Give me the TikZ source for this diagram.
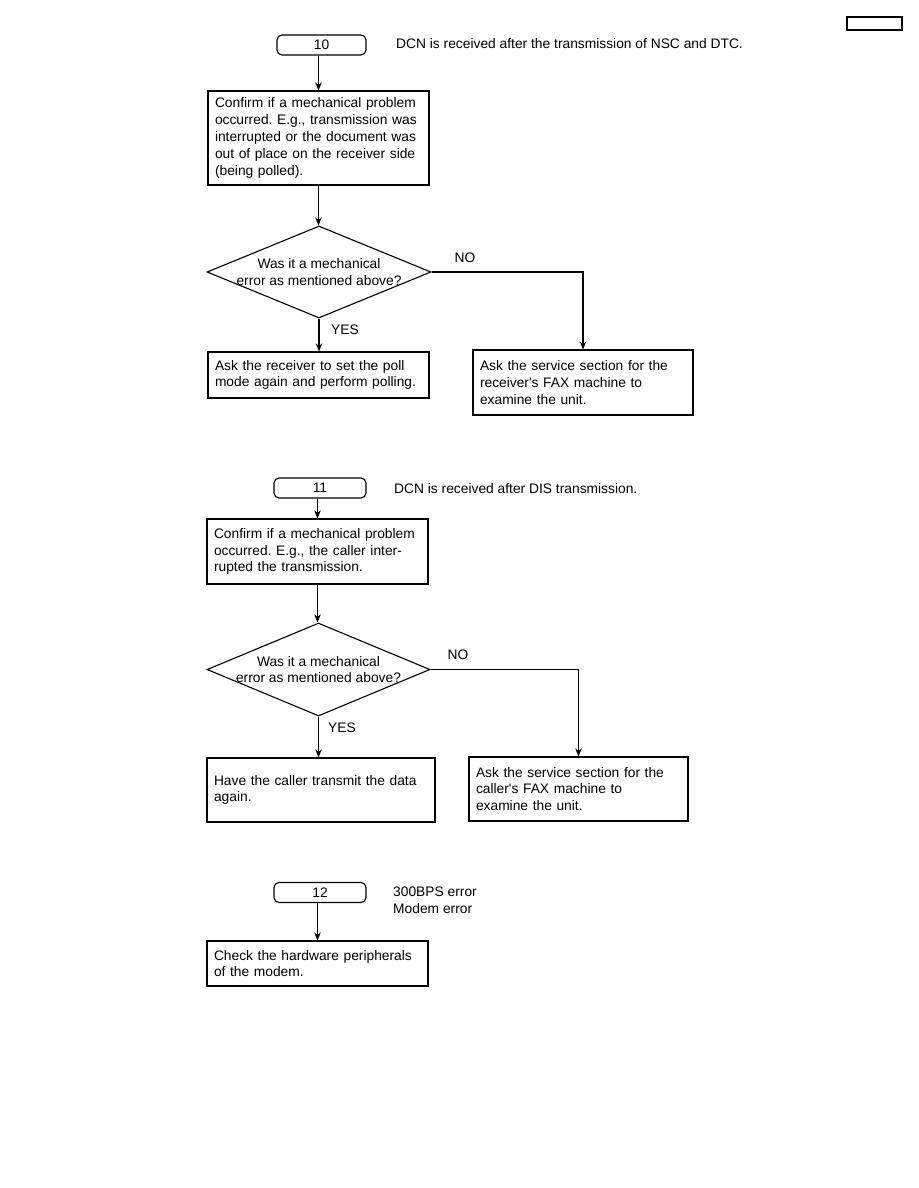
\documentclass[tikz,border=0pt]{standalone}
\usepackage{fontspec}
\setmainfont{Liberation Sans}
\usetikzlibrary{shapes.geometric,arrows.meta}
\frenchspacing
\begin{document}
\begin{tikzpicture}[x=1pt,y=-1pt,
  every node/.style={font=\fontsize{13.8}{16.8}\selectfont},
  box/.style={draw, line width=1.1pt, rectangle, inner xsep=7pt, inner ysep=0pt, align=left, anchor=center},
  term/.style={draw, line width=1.1pt, rounded corners=5pt, minimum height=20pt, inner sep=0pt, anchor=center},
  dec/.style={draw, line width=1.1pt, diamond, inner sep=0pt, anchor=center},
  arr/.style={line width=1.1pt, -{Stealth[length=8pt,width=6.5pt]}},
  lbl/.style={inner sep=0pt, anchor=center},
  desc/.style={inner sep=0pt, anchor=west, align=left}]
\useasboundingbox (0,0) rectangle (918,1188);

% page box
\node[draw, line width=1.3pt, minimum width=55pt, minimum height=13pt, inner sep=0pt] (pg) at (874.5,23.5) {};

% ---------- section 10 ----------
\node[term, minimum width=89pt] (t10) at (321.5,45) {10};
\node[desc] (d10txt) at (396,44) {DCN is received after the transmission of NSC and DTC.};
\node[box, text width=207pt, minimum height=94pt] (b10a) at (318.5,138) {Confirm if a mechanical problem\\occurred. E.g., transmission was\\interrupted or the document was\\out of place on the receiver side\\(being polled).};
\node[dec, minimum width=224pt, minimum height=92pt,
  label={[align=center, inner sep=0pt]center:Was it a mechanical\\error as mentioned above?}] (d10) at (319,272) {};
\node[box, text width=207pt, minimum height=46pt] (b10l) at (318.5,375) {Ask the receiver to set the poll\\mode again and perform polling.};
\node[box, text width=206pt, minimum height=65pt] (b10r) at (583,382.5) {Ask the service section for the\\receiver\textquotesingle s FAX machine to\\examine the unit.};
\node[lbl] (no10) at (465,258) {NO};
\node[lbl] (yes10) at (345,330) {YES};

\draw[arr] (b10a.north |- t10.south) -- (b10a.north);
\draw[arr] (b10a.south) -- (b10a.south |- d10.north);
\draw[arr] (d10.south) -- (d10.south |- b10l.north);
\draw[arr] (d10.east) -| (b10r.north);

% ---------- section 11 ----------
\node[term, minimum width=92pt] (t11) at (320,488) {11};
\node[desc] (d11txt) at (394,489) {DCN is received after DIS transmission.};
\node[box, text width=207pt, minimum height=65pt] (b11a) at (317.5,551.5) {Confirm if a mechanical problem\\occurred. E.g., the caller inter-\\rupted the transmission.};
\node[dec, minimum width=223pt, minimum height=93pt,
  label={[align=center, inner sep=0pt]center:Was it a mechanical\\error as mentioned above?}] (d11) at (318.5,669.5) {};
\node[box, text width=214pt, minimum height=64pt] (b11l) at (321,790) {Have the caller transmit the data\\again.};
\node[box, text width=205pt, minimum height=64pt] (b11r) at (578.5,789) {Ask the service section for the\\caller\textquotesingle s FAX machine to\\examine the unit.};
\node[lbl] (no11) at (458,655) {NO};
\node[lbl] (yes11) at (342,728) {YES};

\draw[arr] (b11a.north |- t11.south) -- (b11a.north);
\draw[arr] (b11a.south) -- (b11a.south |- d11.north);
\draw[arr] (d11.south) -- (d11.south |- b11l.north);
\draw[arr] (d11.east) -| (b11r.north);

% ---------- section 12 ----------
\node[term, minimum width=92pt] (t12) at (320,892.5) {12};
\node[desc] (d12txt) at (393,900) {300BPS error\\Modem error};
\node[box, text width=207pt, minimum height=45pt] (b12) at (317.5,963.5) {Check the hardware peripherals\\of the modem.};
\draw[arr] (b12.north |- t12.south) -- (b12.north);
\end{tikzpicture}
\end{document}
